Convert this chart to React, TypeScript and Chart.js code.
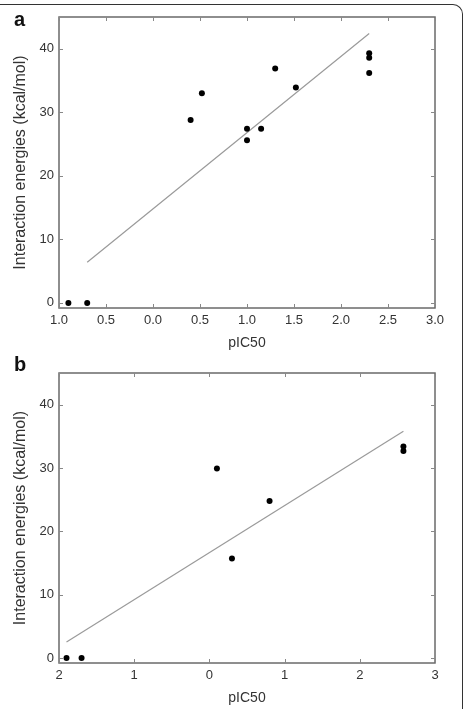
import React, { useEffect, useRef } from "react";
import { Chart, registerables } from "chart.js";
Chart.register(...registerables);

// Panel a
const aXTicks = [-1, -0.5, 0, 0.5, 1, 1.5, 2, 2.5, 3];
const aXTickLabels = ["1.0", "0.5", "0.0", "0.5", "1.0", "1.5", "2.0", "2.5", "3.0"];
const aX = [-0.9, -0.7, 0.4, 0.52, 1.0, 1.0, 1.15, 1.3, 1.52, 2.3, 2.3, 2.3];
const aY = [0, 0, 28.8, 33.0, 27.4, 25.6, 27.4, 36.9, 33.9, 39.3, 38.6, 36.2];
const aFitX = [-0.7, 2.3];
const aFitY = [6.4, 42.4];

// Panel b
const bXTicks = [-2, -1, 0, 1, 2, 3];
const bXTickLabels = ["2", "1", "0", "1", "2", "3"];
const bX = [-1.9, -1.7, 0.1, 0.3, 0.8, 2.58, 2.58];
const bY = [0, 0, 29.9, 15.7, 24.8, 33.4, 32.7];
const bFitX = [-1.9, 2.58];
const bFitY = [2.5, 35.8];

const yTicks = [0, 10, 20, 30, 40];
const xTitle = "pIC50";
const yTitle = "Interaction energies (kcal/mol)";

const FONT = "'Liberation Sans', Arial, sans-serif";

const framePlugin = {
  id: "frameTicks",
  beforeDatasetsDraw(chart: any) {
    const { ctx, chartArea, scales } = chart;
    const { left, top, right, bottom } = chartArea;
    ctx.save();
    ctx.strokeStyle = "#6a6a6a";
    ctx.lineWidth = 1.5;
    ctx.strokeRect(left, top, right - left, bottom - top);
    ctx.lineWidth = 1;
    ctx.strokeStyle = "#888";
    const L = 4;
    ctx.beginPath();
    scales.x.ticks.forEach((t: any) => {
      const px = Math.round(scales.x.getPixelForValue(t.value)) + 0.5;
      ctx.moveTo(px, bottom);
      ctx.lineTo(px, bottom - L);
      ctx.moveTo(px, top);
      ctx.lineTo(px, top + L);
    });
    scales.y.ticks.forEach((t: any) => {
      const py = Math.round(scales.y.getPixelForValue(t.value)) + 0.5;
      ctx.moveTo(left, py);
      ctx.lineTo(left + L, py);
      ctx.moveTo(right, py);
      ctx.lineTo(right - L, py);
    });
    ctx.stroke();
    ctx.restore();
  },
};

type PanelProps = {
  xs: number[];
  ys: number[];
  fitX: number[];
  fitY: number[];
  xTicks: number[];
  xLabels: string[];
  width: number;
  height: number;
  padTop: number;
  xAxisHeight: number;
  xTitlePadBottom: number;
};

function Panel(p: PanelProps) {
  const ref = useRef<HTMLCanvasElement | null>(null);
  useEffect(() => {
    if (!ref.current) return;
    const pts = p.xs.map((x, i) => ({ x, y: p.ys[i] }));
    const fit = p.fitX.map((x, i) => ({ x, y: p.fitY[i] }));
    const chart = new Chart(ref.current, {
      type: "scatter",
      data: {
        datasets: [
          {
            data: fit,
            showLine: true,
            borderColor: "#9a9a9a",
            borderWidth: 1.2,
            pointRadius: 0,
            order: 2,
          },
          {
            data: pts,
            backgroundColor: "#000",
            borderColor: "#000",
            pointRadius: 3,
            pointBorderWidth: 0,
            order: 1,
          },
        ],
      },
      options: {
        responsive: false,
        animation: false,
        events: [],
        layout: { padding: { top: p.padTop, right: 32, bottom: 0, left: 0 } },
        plugins: { legend: { display: false }, tooltip: { enabled: false } },
        scales: {
          x: {
            type: "linear",
            min: p.xTicks[0],
            max: p.xTicks[p.xTicks.length - 1],
            bounds: "data",
            grid: { display: false, drawTicks: false },
            border: { display: false },
            afterBuildTicks: (s: any) => {
              s.ticks = p.xTicks.map((v) => ({ value: v }));
            },
            afterFit: (s: any) => {
              s.height = p.xAxisHeight;
            },
            ticks: {
              autoSkip: false,
              maxRotation: 0,
              padding: 5,
              color: "#333",
              font: { family: FONT, size: 13 },
              callback: (_v: any, i: number) => p.xLabels[i],
            },
            title: {
              display: true,
              text: xTitle,
              color: "#333",
              font: { family: FONT, size: 14 },
              padding: { top: 0, bottom: p.xTitlePadBottom },
            },
          },
          y: {
            type: "linear",
            min: -0.8,
            max: 45,
            bounds: "data",
            grid: { display: false, drawTicks: false },
            border: { display: false },
            afterBuildTicks: (s: any) => {
              s.ticks = yTicks.map((v) => ({ value: v }));
            },
            afterFit: (s: any) => {
              s.width = 59;
            },
            ticks: {
              padding: 5,
              color: "#333",
              font: { family: FONT, size: 13 },
            },
            title: {
              display: true,
              text: yTitle,
              color: "#333",
              font: { family: FONT, size: 16 },
              padding: { top: 11, bottom: 0 },
            },
          },
        },
      },
      plugins: [framePlugin],
    });
    return () => chart.destroy();
  }, []);
  return <canvas ref={ref} width={p.width} height={p.height} style={{ display: "block" }} />;
}

export default function App() {
  return (
    <div
      style={{
        position: "fixed",
        left: 0,
        top: 0,
        width: 467,
        height: 709,
        background: "#fff",
        overflow: "hidden",
      }}
    >
      <div
        style={{
          position: "absolute",
          left: -20,
          top: 4,
          width: 482,
          height: 760,
          borderTop: "1.5px solid #333",
          borderRight: "1.5px solid #333",
          borderTopRightRadius: 10,
        }}
      />
      <div style={{ position: "absolute", left: 0, top: 0 }}>
        <Panel
          xs={aX}
          ys={aY}
          fitX={aFitX}
          fitY={aFitY}
          xTicks={aXTicks}
          xLabels={aXTickLabels}
          width={467}
          height={352}
          padTop={17}
          xAxisHeight={44}
          xTitlePadBottom={0}
        />
      </div>
      <div style={{ position: "absolute", left: 0, top: 352 }}>
        <Panel
          xs={bX}
          ys={bY}
          fitX={bFitX}
          fitY={bFitY}
          xTicks={bXTicks}
          xLabels={bXTickLabels}
          width={467}
          height={357}
          padTop={21}
          xAxisHeight={46}
          xTitlePadBottom={2.5}
        />
      </div>
      <span
        style={{
          position: "absolute",
          left: 14,
          top: 8,
          font: `bold 20px ${FONT}`,
          color: "#111",
        }}
      >
        a
      </span>
      <span
        style={{
          position: "absolute",
          left: 14,
          top: 353,
          font: `bold 20px ${FONT}`,
          color: "#111",
        }}
      >
        b
      </span>
    </div>
  );
}
